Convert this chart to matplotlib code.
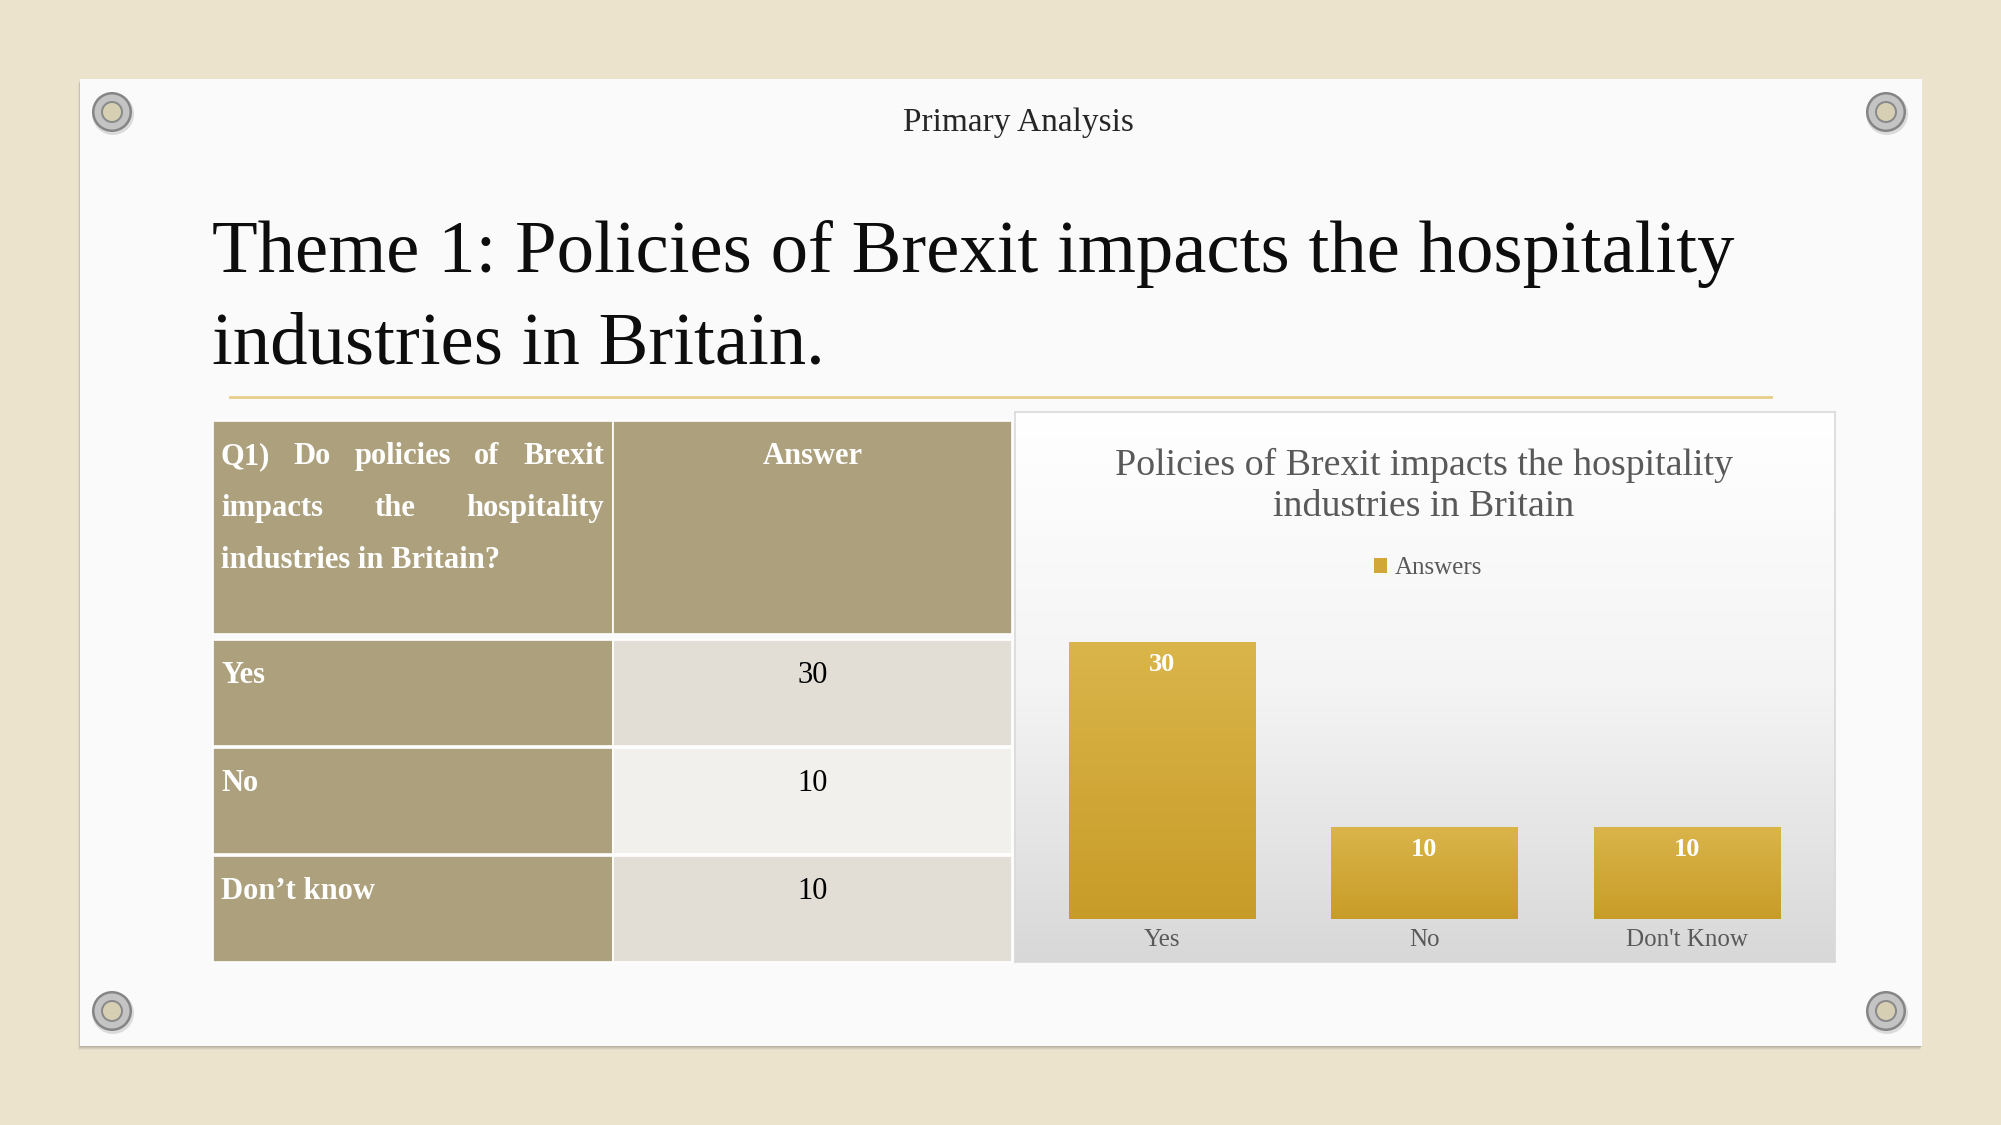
import numpy as np
import matplotlib.pyplot as plt
from matplotlib.patches import Rectangle, Circle
from matplotlib.colors import LinearSegmentedColormap

W, H = 2001, 1125
plt.rcParams['font.family'] = ['Liberation Serif', 'DejaVu Serif']

# slide content
slide_header = "Primary Analysis"
slide_title = ["Theme 1: Policies of Brexit impacts the hospitality",
               "industries in Britain."]
question_lines = ["Q1) Do policies of Brexit",
                  "impacts the hospitality",
                  "industries in Britain?"]
answer_header = "Answer"
table_labels = ["Yes", "No", "Don\u2019t know"]
table_values = [30, 10, 10]

chart_title = ["Policies of Brexit impacts the hospitality",
               "industries in Britain"]
chart_categories = ["Yes", "No", "Don't Know"]
chart_values = [30, 10, 10]
series_name = "Answers"

TAN = '#ACA07D'
GRAY_TXT = '#595959'


def frac(x0, y0, x1, y1):
    return [x0 / W, 1 - y1 / H, (x1 - x0) / W, (y1 - y0) / H]


fig = plt.figure(figsize=(W / 100, H / 100), dpi=100)
fig.patch.set_facecolor('#EBE3CC')
bg = fig.add_axes([0, 0, 1, 1])
bg.set_xlim(0, W)
bg.set_ylim(H, 0)
bg.axis('off')
bg.set_zorder(0)

# paper with soft shadow
for i, a in enumerate([0.04, 0.05, 0.06, 0.08]):
    d = 4 - i
    bg.add_patch(Rectangle((80 - d / 2, 79 + d), 1842, 967, fc='black', alpha=a, lw=0))
bg.add_patch(Rectangle((80, 79), 1842, 967, fc='#FAFAFA', lw=0))

# grommets
for cx, cy in [(112, 112), (1886, 112), (112, 1011), (1886, 1011)]:
    bg.add_patch(Circle((cx + 1, cy + 2), 21, fc='black', alpha=0.12, lw=0))
    bg.add_patch(Circle((cx, cy), 20, fc='#858585', lw=0))
    bg.add_patch(Circle((cx, cy), 17.5, fc='#C4C4C4', lw=0))
    bg.add_patch(Circle((cx, cy), 11, fc='#8A8A8A', lw=0))
    bg.add_patch(Circle((cx, cy), 9, fc='#D6CFB4', lw=0))

# header and title
bg.text(1018, 131, slide_header, ha='center', va='baseline', fontsize=24, color='#262626')
for i, line in enumerate(slide_title):
    bg.text(212, 272 + i * 92, line, ha='left', va='baseline', fontsize=53.8, color='#0D0D0D')
bg.plot([230, 1771], [397, 397], color='#E6CE88', lw=2)

# table
tx0, tsplit, tx1 = 213, 613, 1012
header_top, header_bot = 421, 634
row_tops = [640, 748, 856]
row_h = 106
value_bg = ['#E2DED6', '#F1F0EC', '#E2DED6']

bg.add_patch(Rectangle((tx0, header_top), tsplit - tx0, header_bot - header_top, fc=TAN, ec='white', lw=1.2))
bg.add_patch(Rectangle((tsplit, header_top), tx1 - tsplit, header_bot - header_top, fc=TAN, ec='white', lw=1.2))
for i, top in enumerate(row_tops):
    bg.add_patch(Rectangle((tx0, top), tsplit - tx0, row_h, fc=TAN, ec='white', lw=1.2))
    bg.add_patch(Rectangle((tsplit, top), tx1 - tsplit, row_h, fc=value_bg[i], ec='white', lw=1.2))

renderer = fig.canvas.get_renderer()


def justify(words, x0, x1, y, **kw):
    ts = [bg.text(x0, y, w, ha='left', va='baseline', **kw) for w in words]
    widths = [t.get_window_extent(renderer).width for t in ts]
    gap = (x1 - x0 - sum(widths)) / (len(words) - 1)
    x = x0
    for t, w in zip(ts, widths):
        t.set_x(x)
        x += w + gap


hdr_kw = dict(fontsize=22, fontweight='bold', color='white')
for i, line in enumerate(question_lines):
    y = 464 + i * 52
    if i < len(question_lines) - 1:
        justify(line.split(), 221, 604, y, **hdr_kw)
    else:
        bg.text(221, y, line, ha='left', va='baseline', **hdr_kw)
bg.text((tsplit + tx1) / 2, 464, answer_header, ha='center', va='baseline', **hdr_kw)

for i, (lab, val) in enumerate(zip(table_labels, table_values)):
    y = row_tops[i] + 43
    bg.text(221, y, lab, ha='left', va='baseline', **hdr_kw)
    bg.text((tsplit + tx1) / 2, y, str(val), ha='center', va='baseline', fontsize=22, color='black')

# chart box with vertical gradient
cx0, cy0, cx1, cy1 = 1015, 412, 1835, 962
gax = fig.add_axes(frac(cx0, cy0, cx1, cy1))
gax.set_zorder(1)
grad = LinearSegmentedColormap.from_list('g', ['#FFFFFF', '#F4F4F4', '#D8D8D8'])
gax.imshow(np.linspace(0, 1, 256).reshape(-1, 1), cmap=grad, aspect='auto',
           extent=[0, 1, 1, 0])
gax.set_xticks([])
gax.set_yticks([])
for s in gax.spines.values():
    s.set_color('#D9D9D9')
    s.set_linewidth(1.2)

ccx = 1424
for i, line in enumerate(chart_title):
    fig.text(ccx / W, 1 - (475 + i * 41) / H, line, ha='center', va='baseline',
             fontsize=27.3, color=GRAY_TXT, zorder=10)

# bar chart
ax = fig.add_axes(frac(1031, 919 - 35 * 9.23, 1818, 919))
ax.set_zorder(2)
ax.patch.set_alpha(0)
x = np.arange(len(chart_categories))
bars = ax.bar(x, chart_values, width=0.71, color='#D1A838', label=series_name)
gold = LinearSegmentedColormap.from_list('gold', ['#C89C28', '#DAB54A'])
for b in bars:
    im = ax.imshow(np.linspace(0, 1, 100).reshape(-1, 1), cmap=gold, origin='lower', aspect='auto',
                   extent=[b.get_x(), b.get_x() + b.get_width(), 0, b.get_height()], zorder=2)
    im.set_clip_path(b)
for xi, v in zip(x, chart_values):
    ax.annotate(str(v), (xi, v), xytext=(0, -21), textcoords='offset points', ha='center',
                va='baseline', fontsize=19, fontweight='bold', color='white', zorder=3)
ax.set_xlim(-0.5, 2.5)
ax.set_ylim(0, 35)
ax.set_xticks(x)
ax.set_xticklabels(chart_categories, fontsize=18, color=GRAY_TXT)
ax.tick_params(axis='x', length=0, pad=7.5)
ax.set_yticks([])
for s in ax.spines.values():
    s.set_visible(False)

leg = ax.legend(loc='center', bbox_to_anchor=(1428 / W, 1 - 568 / H), bbox_transform=fig.transFigure,
                frameon=False, fontsize=18, labelcolor=GRAY_TXT, handlelength=0.55, handleheight=0.55,
                handletextpad=0.3)

fig.savefig('out.png', dpi=100, facecolor=fig.get_facecolor())
